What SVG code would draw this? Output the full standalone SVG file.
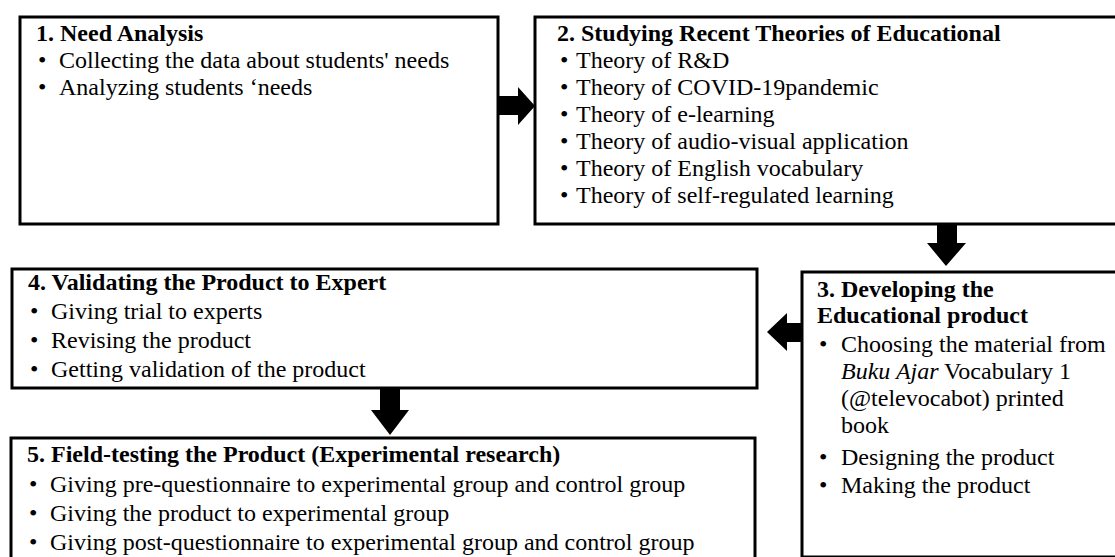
<svg xmlns="http://www.w3.org/2000/svg" width="1115" height="557" viewBox="0 0 1115 557">
<style>
.box{fill:#fff;stroke:#000;stroke-width:3}
text{font-family:"Liberation Serif","Times New Roman",serif;font-size:24px;fill:#000}
.t{font-weight:bold}
.arr{fill:#000}
</style>
<rect width="1115" height="557" fill="#fff"/>
<g id="node1">
<rect class="box" x="20" y="17" width="478" height="207"/>
<text class="t" x="36" y="41">1. Need Analysis</text>
<text x="38" y="68">•</text><text x="59" y="68">Collecting the data about students' needs</text>
<text x="38" y="95">•</text><text x="59" y="95">Analyzing students ‘needs</text>
</g>
<g id="node2">
<rect class="box" x="535" y="17" width="590" height="207"/>
<text class="t" x="557" y="41">2. Studying Recent Theories of Educational</text>
<text x="560" y="68">•</text><text x="576" y="68">Theory of R&amp;D</text>
<text x="560" y="95">•</text><text x="576" y="95">Theory of COVID-19pandemic</text>
<text x="560" y="122">•</text><text x="576" y="122">Theory of e-learning</text>
<text x="560" y="149">•</text><text x="576" y="149">Theory of audio-visual application</text>
<text x="560" y="176">•</text><text x="576" y="176">Theory of English vocabulary</text>
<text x="560" y="203">•</text><text x="576" y="203">Theory of self-regulated learning</text>
</g>
<g id="node3">
<rect class="box" x="802" y="272" width="330" height="285"/>
<text class="t" x="817" y="297">3. Developing the</text>
<text class="t" x="817" y="323">Educational product</text>
<text x="819" y="352">•</text><text x="841" y="352">Choosing the material from</text>
<text x="841" y="379"><tspan font-style="italic">Buku Ajar</tspan> Vocabulary 1</text>
<text x="841" y="406">(@televocabot) printed</text>
<text x="841" y="433">book</text>
<text x="819" y="465">•</text><text x="841" y="465">Designing the product</text>
<text x="819" y="493">•</text><text x="841" y="493">Making the product</text>
</g>
<g id="node4">
<rect class="box" x="12" y="269" width="745" height="119"/>
<text class="t" x="28" y="290">4. Validating the Product to Expert</text>
<text x="30" y="319">•</text><text x="51" y="319">Giving trial to experts</text>
<text x="30" y="348">•</text><text x="51" y="348">Revising the product</text>
<text x="30" y="377">•</text><text x="51" y="377">Getting validation of the product</text>
</g>
<g id="node5">
<rect class="box" x="11" y="438" width="744" height="140"/>
<text class="t" x="27" y="462">5. Field-testing the Product (Experimental research)</text>
<text x="29" y="492">•</text><text x="50" y="492">Giving pre-questionnaire to experimental group and control group</text>
<text x="29" y="521">•</text><text x="50" y="521">Giving the product to experimental group</text>
<text x="29" y="550">•</text><text x="50" y="550">Giving post-questionnaire to experimental group and control group</text>
</g>
<g id="connectors">
<polygon class="arr" points="498,96 518,96 518,87 535,106 518,125 518,115 498,115"/>
<polygon class="arr" points="937,224 957,224 957,243 966,243 946,266 927,243 937,243"/>
<polygon class="arr" points="802,323 787,323 787,313 767,332 787,351 787,342 802,342"/>
<polygon class="arr" points="380,388 400,388 400,410 409,410 390,435 371,410 380,410"/>
</g>
</svg>
